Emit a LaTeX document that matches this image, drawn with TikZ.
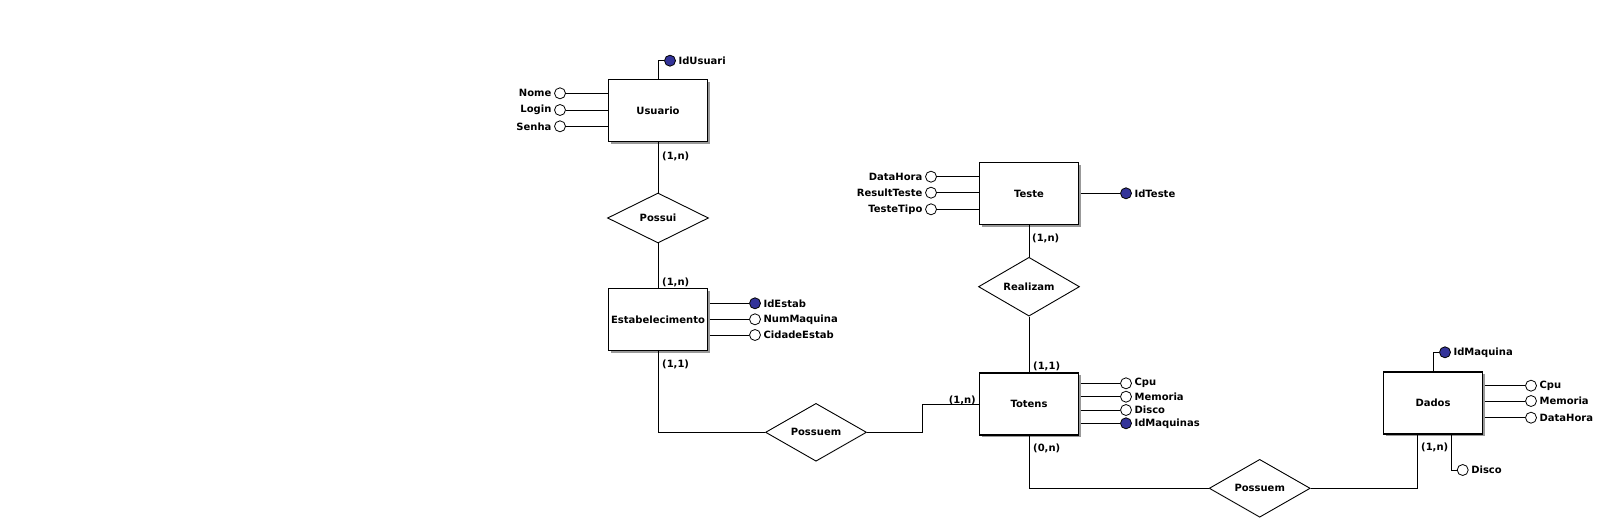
\documentclass[tikz,border=0pt]{standalone}
\usepackage{fontspec}
\setmainfont{DejaVu Sans}
\usetikzlibrary{shapes.geometric,shadows}
\definecolor{keyblue}{RGB}{51,51,153}
\begin{document}
\begin{tikzpicture}[x=1pt,y=-1pt,
 every node/.style={font=\fontsize{10}{12}\selectfont\bfseries},
 entity/.style={draw,line width=1.4pt,fill=white,minimum width=99pt,minimum height=62pt,inner sep=0pt,
   drop shadow={shadow xshift=2.2pt,shadow yshift=-2.2pt,fill=black!40,opacity=1}},
 rel/.style={diamond,draw,line width=0.9pt,fill=white,minimum width=101pt,minimum height=50pt,inner sep=0pt},
 attr/.style={circle,draw,line width=0.8pt,fill=white,minimum size=11pt,inner sep=0pt},
 keyattr/.style={attr,fill=keyblue},
 lbl/.style={inner sep=1.5pt},
 card/.style={inner sep=0pt},
 conn/.style={line width=1pt}]
\useasboundingbox[fill=white] (0,0) rectangle (1606,519);

% entities
\node[entity] (usuario) at (658,110.5) {Usuario};
\node[entity] (estab) at (658,319.7) {Estabelecimento};
\node[entity] (teste) at (1029,193.7) {Teste};
\node[entity] (totens) at (1029,404) {Totens};
\node[entity] (dados) at (1433,403) {Dados};

% relationships
\node[rel] (possui) at (658,218) {Possui};
\node[rel] (possuem1) at (816,432.3) {Possuem};
\node[rel] (realizam) at (1029,286.7) {Realizam};
\node[rel] (possuem2) at (1259.7,488.3) {Possuem};

% connectors
\draw[conn] (usuario.south) -- (possui.north);
\draw[conn] (possui.south) -- (estab.north);
\draw[conn] (estab.south) |- (possuem1.west);
\coordinate (bend1) at (922.3,0);
\draw[conn] (possuem1.east) -- (possuem1.east -| bend1) -- (bend1 |- totens.west) -- (totens.west);
\draw[conn] (teste.south) -- (realizam.north);
\draw[conn] (realizam.south) -- (totens.north);
\draw[conn] (totens.south) |- (possuem2.west);
\coordinate (dadosb) at (1417.3,434);
\draw[conn] (possuem2.east) -| (dadosb);

% cardinalities
\node[card,anchor=west] (c1) at (662,156) {(1,n)};
\node[card,anchor=west] (c2) at (662,282) {(1,n)};
\node[card,anchor=west] (c3) at (662,364) {(1,1)};
\node[card,anchor=west] (c4) at (1032,238.3) {(1,n)};
\node[card,anchor=west] (c5) at (1033,366.7) {(1,1)};
\node[card,anchor=east] (c6) at (976,400) {(1,n)};
\node[card,anchor=west] (c7) at (1033,448.3) {(0,n)};
\node[card,anchor=west] (c8) at (1421,447.7) {(1,n)};

% Usuario attributes
\node[keyattr] (idusuari) at (670,60.7) {};
\node[lbl,anchor=west] (idusuarit) at ([xshift=1pt]idusuari.east) {IdUsuari};
\draw[conn] (usuario.north) -- (usuario.north |- idusuari) -- (idusuari);
\node[attr] (nome) at (560,93.3) {};
\node[attr] (login) at (560,110) {};
\node[attr] (senha) at (560,126.3) {};
\node[lbl,anchor=east] (nomet) at ([xshift=-1pt]nome.west) {Nome};
\node[lbl,anchor=east] (logint) at ([xshift=-1pt]login.west) {Login};
\node[lbl,anchor=east] (senhat) at ([xshift=-1pt]senha.west) {Senha};
\foreach \a in {nome,login,senha} \draw[conn] (usuario.west |- \a) -- (\a);

% Estabelecimento attributes
\node[keyattr] (idestab) at (755,303.3) {};
\node[attr] (nummaq) at (755,319.3) {};
\node[attr] (cidade) at (755,335) {};
\node[lbl,anchor=west] (idestabt) at ([xshift=1pt]idestab.east) {IdEstab};
\node[lbl,anchor=west] (nummaqt) at ([xshift=1pt]nummaq.east) {NumMaquina};
\node[lbl,anchor=west] (cidadet) at ([xshift=1pt]cidade.east) {CidadeEstab};
\foreach \a in {idestab,nummaq,cidade} \draw[conn] ([xshift=1.5pt]estab.east |- \a) -- (\a);

% Teste attributes
\node[attr] (datahora) at (931,176.7) {};
\node[attr] (result) at (931,192.7) {};
\node[attr] (tipo) at (931,209.3) {};
\node[lbl,anchor=east] (datahorat) at ([xshift=-1pt]datahora.west) {DataHora};
\node[lbl,anchor=east] (resultt) at ([xshift=-1pt]result.west) {ResultTeste};
\node[lbl,anchor=east] (tipot) at ([xshift=-1pt]tipo.west) {TesteTipo};
\foreach \a in {datahora,result,tipo} \draw[conn] (teste.west |- \a) -- (\a);
\node[keyattr] (idteste) at (1126,193.3) {};
\node[lbl,anchor=west] (idtestet) at ([xshift=1pt]idteste.east) {IdTeste};
\draw[conn] ([xshift=1.5pt]teste.east |- idteste) -- (idteste);

% Totens attributes
\node[attr] (tcpu) at (1126,383.3) {};
\node[attr] (tmem) at (1126,396.7) {};
\node[attr] (tdisco) at (1126,410) {};
\node[keyattr] (tidmaq) at (1126,423.3) {};
\node[lbl,anchor=west] (tcput) at ([xshift=1pt]tcpu.east) {Cpu};
\node[lbl,anchor=west] (tmemt) at ([xshift=1pt]tmem.east) {Memoria};
\node[lbl,anchor=west] (tdiscot) at ([xshift=1pt]tdisco.east) {Disco};
\node[lbl,anchor=west] (tidmaqt) at ([xshift=1pt]tidmaq.east) {IdMaquinas};
\foreach \a in {tcpu,tmem,tdisco,tidmaq} \draw[conn] ([xshift=1.5pt]totens.east |- \a) -- (\a);

% Dados attributes
\node[keyattr] (didmaq) at (1445,352.3) {};
\node[lbl,anchor=west] (didmaqt) at ([xshift=1pt]didmaq.east) {IdMaquina};
\draw[conn] (dados.north) -- (dados.north |- didmaq) -- (didmaq);
\node[attr] (dcpu) at (1531,385.7) {};
\node[attr] (dmem) at (1531,401) {};
\node[attr] (ddata) at (1531,417.7) {};
\node[lbl,anchor=west] (dcput) at ([xshift=1pt]dcpu.east) {Cpu};
\node[lbl,anchor=west] (dmemt) at ([xshift=1pt]dmem.east) {Memoria};
\node[lbl,anchor=west] (ddatat) at ([xshift=1pt]ddata.east) {DataHora};
\foreach \a in {dcpu,dmem,ddata} \draw[conn] ([xshift=1.5pt]dados.east |- \a) -- (\a);
\node[attr] (ddisco) at (1462.7,470) {};
\node[lbl,anchor=west] (ddiscot) at ([xshift=1pt]ddisco.east) {Disco};
\coordinate (dadosd) at (1451.7,434);
\draw[conn] (dadosd) |- (ddisco);
\end{tikzpicture}
\end{document}
